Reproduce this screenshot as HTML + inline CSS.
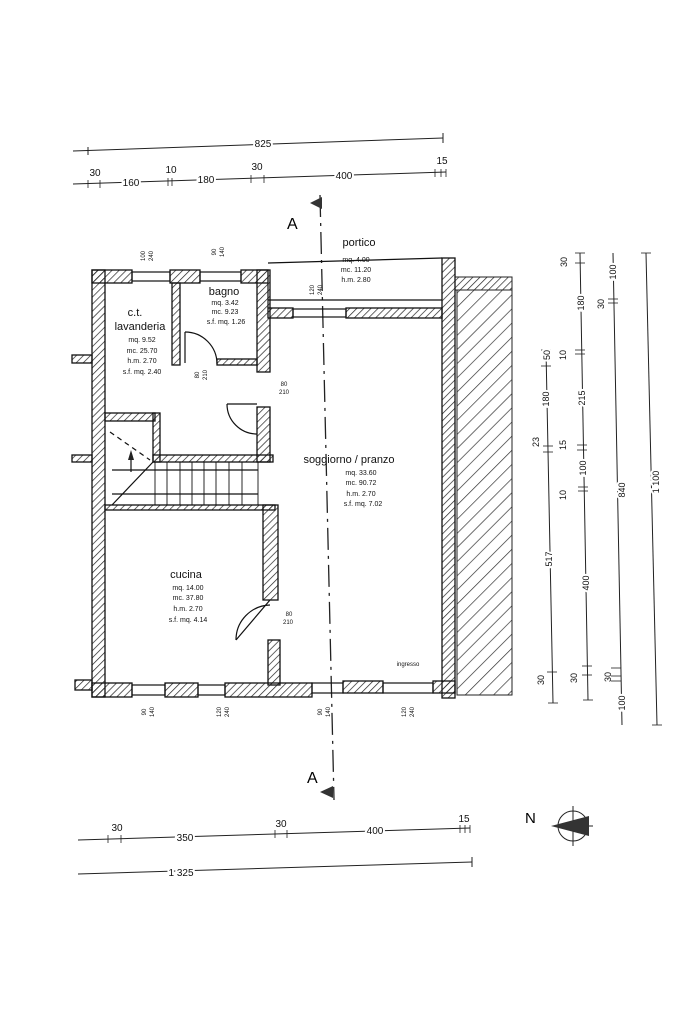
<!DOCTYPE html>
<html><head><meta charset="utf-8"><style>
html,body{margin:0;padding:0;background:#fff}
svg{display:block;font-family:"Liberation Sans",sans-serif}
.k{paint-order:stroke;stroke:#fff;stroke-width:4px}
</style></head><body>
<svg width="683" height="1023" viewBox="0 0 683 1023" xmlns="http://www.w3.org/2000/svg">
<defs>
<pattern id="h" width="5" height="5" patternUnits="userSpaceOnUse" patternTransform="rotate(45)"><line x1="0" y1="0" x2="0" y2="5" stroke="#222" stroke-width="1.4"/></pattern>
<pattern id="h2" width="10" height="10" patternUnits="userSpaceOnUse" patternTransform="rotate(45)"><line x1="0" y1="0" x2="0" y2="10" stroke="#333" stroke-width="1.4"/></pattern>
</defs>
<g stroke="#222" stroke-width="1" fill="none">
<line x1="73" y1="151" x2="443" y2="138"/>
<line x1="443" y1="133" x2="443" y2="143"/><line x1="88" y1="147" x2="88" y2="155"/>
<line x1="73" y1="184" x2="446" y2="172"/>
<g stroke-width="0.8"><line x1="88" y1="180" x2="88" y2="188"/><line x1="100" y1="180" x2="100" y2="188"/><line x1="168" y1="178" x2="168" y2="186"/><line x1="172" y1="178" x2="172" y2="186"/><line x1="251" y1="175" x2="251" y2="183"/><line x1="264" y1="175" x2="264" y2="183"/><line x1="435" y1="169" x2="435" y2="177"/><line x1="441" y1="169" x2="441" y2="177"/><line x1="446" y1="169" x2="446" y2="177"/></g>
<line x1="78" y1="840" x2="470" y2="828"/>
<g stroke-width="0.8"><line x1="108" y1="835" x2="108" y2="843"/><line x1="121" y1="835" x2="121" y2="843"/><line x1="275" y1="830" x2="275" y2="838"/><line x1="287" y1="830" x2="287" y2="838"/><line x1="460" y1="825" x2="460" y2="833"/><line x1="465" y1="825" x2="465" y2="833"/><line x1="470" y1="825" x2="470" y2="833"/></g>
<line x1="78" y1="874" x2="472" y2="862"/><line x1="472" y1="857" x2="472" y2="867"/>
<line x1="546" y1="350" x2="553" y2="703"/>
<line x1="580" y1="253" x2="588" y2="700"/>
<line x1="613" y1="253" x2="622" y2="725"/>
<line x1="646" y1="253" x2="657" y2="725"/>
<g stroke-width="0.8"><line x1="641" y1="253" x2="651" y2="253"/><line x1="652" y1="725" x2="662" y2="725"/>
<line x1="575" y1="253" x2="585" y2="253"/><line x1="575" y1="263" x2="585" y2="263"/><line x1="575" y1="350" x2="585" y2="350"/><line x1="575" y1="354" x2="585" y2="354"/><line x1="577" y1="445" x2="587" y2="445"/><line x1="577" y1="450" x2="587" y2="450"/><line x1="578" y1="487" x2="588" y2="487"/><line x1="578" y1="491" x2="588" y2="491"/><line x1="582" y1="666" x2="592" y2="666"/><line x1="582" y1="675" x2="592" y2="675"/><line x1="583" y1="700" x2="593" y2="700"/>
<line x1="541" y1="350" x2="551" y2="350"/><line x1="541" y1="366" x2="551" y2="366"/><line x1="543" y1="446" x2="553" y2="446"/><line x1="543" y1="452" x2="553" y2="452"/><line x1="547" y1="672" x2="557" y2="672"/><line x1="548" y1="703" x2="558" y2="703"/>
<line x1="608" y1="303" x2="618" y2="303"/><line x1="608" y1="299" x2="618" y2="299"/><line x1="611" y1="668" x2="621" y2="668"/><line x1="611" y1="676" x2="621" y2="676"/><line x1="611" y1="681" x2="621" y2="681"/></g>
<line x1="320" y1="195" x2="334" y2="800" stroke-dasharray="22,6,3,6" stroke-width="1.3"/>
</g>
<polygon points="310,203 322,197 322,209" fill="#333"/>
<polygon points="320,792 333,786 333,798" fill="#333"/>
<text x="287" y="229" font-size="16">A</text>
<text x="307" y="783" font-size="16">A</text>
<circle cx="573" cy="826" r="15" fill="none" stroke="#222"/>
<line x1="573" y1="806" x2="573" y2="846" stroke="#222"/><line x1="553" y1="826" x2="593" y2="826" stroke="#222"/>
<polygon points="551,826 589,816 589,836" fill="#333"/>
<text x="525" y="823" font-size="15">N</text>
<rect x="457" y="290" width="55" height="405" fill="url(#h2)" stroke="#222"/>
<rect x="455" y="277" width="57" height="13" fill="url(#h)" stroke="#222"/>
<g fill="url(#h)" stroke="#111" stroke-width="1.3">
<rect x="92" y="270" width="13" height="427"/>
<rect x="92" y="270" width="40" height="13"/>
<rect x="170" y="270" width="30" height="13"/>
<rect x="241" y="270" width="27" height="13"/>
<rect x="442" y="258" width="13" height="440"/>
<rect x="268" y="308" width="25" height="10"/>
<rect x="346" y="308" width="96" height="10"/>
<rect x="172" y="283" width="8" height="82"/>
<rect x="257" y="270" width="13" height="102"/>
<rect x="217" y="359" width="40" height="6"/>
<rect x="257" y="407" width="13" height="55"/>
<rect x="105" y="413" width="50" height="8"/>
<rect x="153" y="413" width="7" height="49"/>
<rect x="153" y="455" width="120" height="7"/>
<rect x="105" y="505" width="170" height="5"/>
<rect x="263" y="505" width="15" height="95"/>
<rect x="268" y="640" width="12" height="45"/>
<rect x="92" y="683" width="40" height="14"/>
<rect x="165" y="683" width="33" height="14"/>
<rect x="225" y="683" width="87" height="14"/>
<rect x="343" y="681" width="40" height="12"/>
<rect x="433" y="681" width="22" height="12"/>
<rect x="72" y="355" width="20" height="8"/>
<rect x="72" y="455" width="20" height="7"/>
<rect x="75" y="680" width="17" height="10"/>
</g>
<g stroke="#111" fill="none" stroke-width="1.2">
<line x1="268" y1="263" x2="442" y2="258"/>
<line x1="268" y1="300" x2="442" y2="300"/>
<line x1="268" y1="283" x2="268" y2="308"/>
<rect x="132" y="272" width="38" height="9"/><rect x="200" y="272" width="41" height="9"/>
<rect x="293" y="309" width="53" height="8"/>
<rect x="132" y="685" width="33" height="10"/><rect x="198" y="685" width="27" height="10"/>
<rect x="312" y="683" width="31" height="10"/><rect x="383" y="683" width="50" height="10"/>
<path d="M185,332 L185,363"/><path d="M185,332 A32,32 0 0 1 217,364"/>
<path d="M257,404 L227,404"/><path d="M227,404 A30,30 0 0 0 257,434"/>
<path d="M270,600 L236,640"/><path d="M236,640 A35,35 0 0 1 270,605"/>
<line x1="112" y1="470" x2="258" y2="470"/><line x1="112" y1="494" x2="258" y2="494"/>
<line x1="112" y1="505" x2="153" y2="462"/>
<g stroke-width="0.9"><line x1="155" y1="462" x2="155" y2="505"/><line x1="167" y1="462" x2="167" y2="505"/><line x1="180" y1="462" x2="180" y2="505"/><line x1="192" y1="462" x2="192" y2="505"/><line x1="204" y1="462" x2="204" y2="505"/><line x1="216" y1="462" x2="216" y2="505"/><line x1="229" y1="462" x2="229" y2="505"/><line x1="242" y1="462" x2="242" y2="505"/><line x1="258" y1="462" x2="258" y2="505"/></g>
<line x1="110" y1="432" x2="150" y2="460" stroke-dasharray="5,4"/>
<line x1="131" y1="460" x2="131" y2="472"/>
</g>
<polygon points="131,450 128,460 134,460" fill="#222"/>
<g font-size="11" text-anchor="middle" fill="#111">
<text x="359" y="246">portico</text>
<text x="135" y="316">c.t.</text>
<text x="140" y="330">lavanderia</text>
<text x="224" y="295">bagno</text>
<text x="349" y="463">soggiorno / pranzo</text>
<text x="186" y="578">cucina</text>
</g>
<g font-size="7" text-anchor="middle" fill="#111">
<text x="356" y="262">mq. 4.00</text><text x="356" y="272">mc. 11.20</text><text x="356" y="282">h.m. 2.80</text>
<text x="142" y="342">mq. 9.52</text><text x="142" y="353">mc. 25.70</text><text x="142" y="363">h.m. 2.70</text><text x="142" y="374">s.f. mq. 2.40</text>
<text x="225" y="305">mq. 3.42</text><text x="225" y="314">mc. 9.23</text><text x="226" y="324">s.f. mq. 1.26</text>
<text x="361" y="475">mq. 33.60</text><text x="361" y="485">mc. 90.72</text><text x="361" y="496">h.m. 2.70</text><text x="363" y="506">s.f. mq. 7.02</text>
<text x="188" y="590">mq. 14.00</text><text x="188" y="600">mc. 37.80</text><text x="188" y="611">h.m. 2.70</text><text x="188" y="622">s.f. mq. 4.14</text>
<text x="408" y="666" font-size="6">ingresso</text>
<text x="284" y="386" font-size="6">80</text><text x="284" y="394" font-size="6">210</text>
<text x="289" y="616" font-size="6">80</text><text x="288" y="624" font-size="6">210</text>
</g>
<g font-size="10" text-anchor="middle" fill="#111">
<text class="k" x="263" y="147">825</text>
<text x="95" y="176">30</text><text class="k" x="131" y="186">160</text><text x="171" y="173">10</text><text class="k" x="206" y="183">180</text><text x="257" y="170">30</text><text class="k" x="344" y="179">400</text><text x="442" y="164">15</text>
<text x="117" y="831">30</text><text class="k" x="185" y="841">350</text><text x="281" y="827">30</text><text class="k" x="375" y="834">400</text><text x="464" y="822">15</text>
<text class="k" x="181" y="876">1 325</text>
</g>
<g font-size="9" fill="#111" text-anchor="middle">
<g transform="translate(567,262) rotate(-90)"><text>30</text></g>
<g transform="translate(566,355) rotate(-90)"><text>10</text></g>
<g transform="translate(566,445) rotate(-90)"><text>15</text></g>
<g transform="translate(566,495) rotate(-90)"><text>10</text></g>
<g transform="translate(577,678) rotate(-90)"><text>30</text></g>
<g transform="translate(539,442) rotate(-90)"><text>23</text></g>
<g transform="translate(544,680) rotate(-90)"><text>30</text></g>
<g transform="translate(604,304) rotate(-90)"><text>30</text></g>
<g transform="translate(611,677) rotate(-90)"><text>30</text></g>
<g transform="translate(584,303) rotate(-90)"><text class="k">180</text></g>
<g transform="translate(585,398) rotate(-90)"><text class="k">215</text></g>
<g transform="translate(586,468) rotate(-90)"><text class="k">100</text></g>
<g transform="translate(589,583) rotate(-90)"><text class="k">400</text></g>
<g transform="translate(549,399) rotate(-90)"><text class="k">180</text></g>
<g transform="translate(550,355) rotate(-90)"><text class="k">50</text></g>
<g transform="translate(552,559) rotate(-90)"><text class="k">517</text></g>
<g transform="translate(616,272) rotate(-90)"><text class="k">100</text></g>
<g transform="translate(625,490) rotate(-90)"><text class="k">840</text></g>
<g transform="translate(625,703) rotate(-90)"><text class="k">100</text></g>
<g transform="translate(659,482) rotate(-90)"><text class="k">1 100</text></g>
</g>
<g font-size="6" fill="#111" text-anchor="middle">
<g transform="translate(145,256) rotate(-90)"><text>100</text></g><g transform="translate(153,256) rotate(-90)"><text>240</text></g>
<g transform="translate(216,252) rotate(-90)"><text>90</text></g><g transform="translate(224,252) rotate(-90)"><text>140</text></g>
<g transform="translate(314,290) rotate(-90)"><text>120</text></g><g transform="translate(322,290) rotate(-90)"><text>240</text></g>
<g transform="translate(199,375) rotate(-90)"><text>80</text></g><g transform="translate(207,375) rotate(-90)"><text>210</text></g>
<g transform="translate(146,712) rotate(-90)"><text>90</text></g><g transform="translate(154,712) rotate(-90)"><text>140</text></g>
<g transform="translate(221,712) rotate(-90)"><text>120</text></g><g transform="translate(229,712) rotate(-90)"><text>240</text></g>
<g transform="translate(322,712) rotate(-90)"><text>90</text></g><g transform="translate(330,712) rotate(-90)"><text>140</text></g>
<g transform="translate(406,712) rotate(-90)"><text>120</text></g><g transform="translate(414,712) rotate(-90)"><text>240</text></g>
</g>
</svg>
</body></html>
